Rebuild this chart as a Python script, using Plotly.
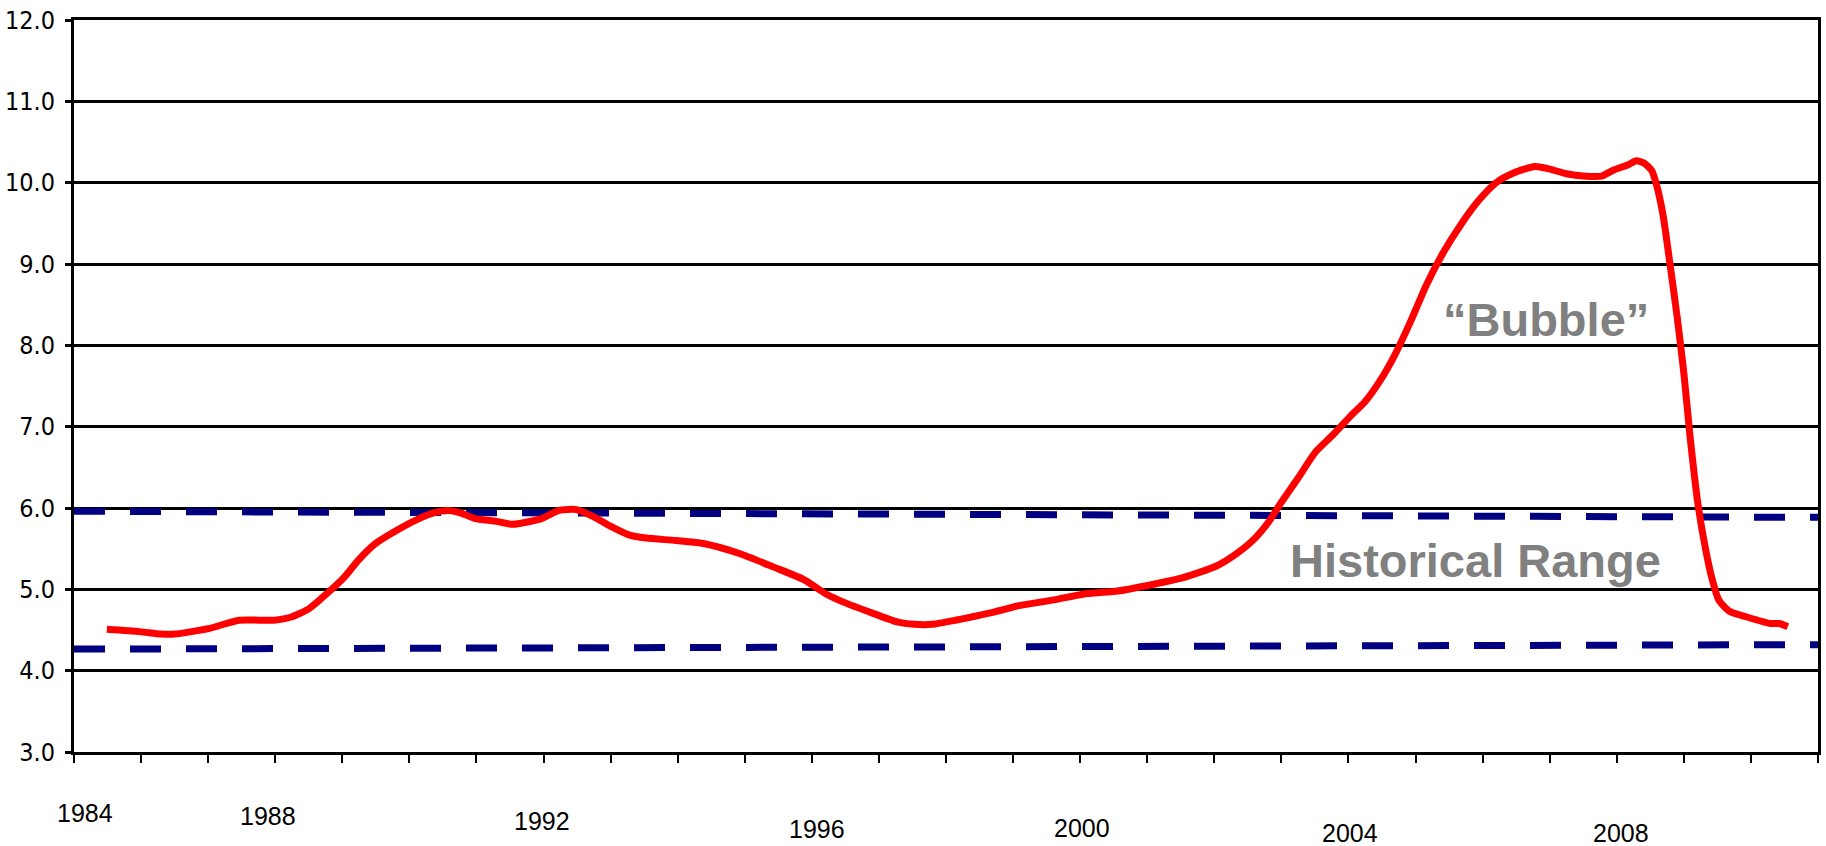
import plotly.graph_objects as go

# ---- data ----
years = [1985.49, 1985.98, 1986.3, 1986.5, 1987.02, 1987.46, 1987.98, 1988.24, 1988.5, 1988.76,
         1989.02, 1989.24, 1989.49, 1989.8, 1990.12, 1990.36, 1990.58, 1990.76, 1990.98, 1991.27,
         1991.54, 1991.97, 1992.23, 1992.49, 1992.75, 1993.01, 1993.27, 1993.53, 1993.97, 1994.4,
         1994.92, 1995.44, 1995.88, 1996.22, 1996.48, 1996.83, 1997.27, 1997.53, 1997.79, 1998.14,
         1998.66, 1999.09, 1999.61, 2000.04, 2000.56, 2001.08, 2001.52, 2002.04, 2002.3, 2002.56,
         2002.82, 2002.99, 2003.25, 2003.51, 2003.77, 2004.03, 2004.24, 2004.46, 2004.69, 2004.93,
         2005.16, 2005.42, 2005.68, 2005.94, 2006.2, 2006.46, 2006.78, 2006.99, 2007.25, 2007.54,
         2007.77, 2007.94, 2008.17, 2008.29, 2008.41, 2008.52, 2008.6, 2008.69, 2008.79, 2008.9,
         2009.0, 2009.09, 2009.21, 2009.32, 2009.42, 2009.52, 2009.68, 2009.94, 2010.29, 2010.42,
         2010.55]
ratio = [4.51, 4.48, 4.45, 4.45, 4.52, 4.62, 4.62, 4.66, 4.76, 4.94,
         5.14, 5.36, 5.56, 5.72, 5.86, 5.94, 5.97, 5.94, 5.87, 5.84,
         5.80, 5.87, 5.97, 5.98, 5.89, 5.77, 5.67, 5.63, 5.60, 5.56,
         5.44, 5.27, 5.12, 4.94, 4.84, 4.73, 4.60, 4.57, 4.57, 4.62,
         4.71, 4.80, 4.87, 4.94, 4.98, 5.06, 5.14, 5.29, 5.42, 5.59,
         5.84, 6.06, 6.37, 6.69, 6.90, 7.13, 7.30, 7.55, 7.88, 8.30,
         8.74, 9.15, 9.49, 9.78, 10.00, 10.12, 10.20, 10.17, 10.11, 10.08,
         10.08, 10.15, 10.22, 10.27, 10.24, 10.15, 9.95, 9.60, 9.02, 8.35,
         7.66, 6.90, 6.05, 5.51, 5.13, 4.87, 4.73, 4.66, 4.58, 4.58,
         4.54]

range_years = [1985, 2011]
upper_bound = [5.96, 5.885]
lower_bound = [4.265, 4.32]

tick_years = list(range(1985, 2012))
label_text = ["1984", "1988", "1992", "1996", "2000", "2004", "2008"]
# label placement (x in axis units, vertical offset in px)
label_x = [1985.16, 1987.89, 1991.97, 1996.07, 2000.02, 2004.03, 2008.06]
label_dy = [-61, -64, -69, -77, -76, -81, -81]

fig = go.Figure()

fig.add_trace(go.Scatter(x=range_years, y=upper_bound, mode="lines",
                         line=dict(color="#000080", width=7, dash="31px,25px"),
                         hoverinfo="skip", showlegend=False))
fig.add_trace(go.Scatter(x=range_years, y=lower_bound, mode="lines",
                         line=dict(color="#000080", width=7, dash="31px,25px"),
                         hoverinfo="skip", showlegend=False))
fig.add_trace(go.Scatter(x=years, y=ratio, mode="lines",
                         line=dict(color="#FF0000", width=7, shape="spline", smoothing=0.6),
                         showlegend=False))

for t, xv, dy in zip(label_text, label_x, label_dy):
    fig.add_annotation(x=xv, y=0, xref="x", yref="paper", text=t, showarrow=False,
                       xanchor="center", yanchor="middle", yshift=dy,
                       font=dict(family="Liberation Sans, Arial", size=25, color="#000000"))

fig.add_annotation(x=2006.94, y=8.32, xref="x", yref="y", text="\u201cBubble\u201d",
                   showarrow=False, xanchor="center", yanchor="middle",
                   font=dict(family="Liberation Sans, Arial", size=47, color="#808080", weight="bold"))
fig.add_annotation(x=2005.89, y=5.36, xref="x", yref="y", text="Historical Range",
                   showarrow=False, xanchor="center", yanchor="middle",
                   font=dict(family="Liberation Sans, Arial", size=47, color="#808080", weight="bold"))

fig.update_layout(
    width=1826, height=846,
    margin=dict(l=74, r=8, t=20, b=94, autoexpand=False),
    paper_bgcolor="white", plot_bgcolor="white",
    xaxis=dict(range=range_years, tickvals=tick_years, showticklabels=False,
               ticks="outside", ticklen=8, tickwidth=2, tickcolor="black",
               showgrid=False, zeroline=False, showline=True, linecolor="black",
               linewidth=3, mirror=True),
    yaxis=dict(range=[3, 12], dtick=1, tickformat=".1f",
               ticks="outside", ticklen=6, tickwidth=2.5, tickcolor="black",
               showgrid=True, gridcolor="black", gridwidth=2.5, zeroline=False,
               showline=True, linecolor="black", linewidth=3, mirror=True,
               ticklabelstandoff=5,
               tickfont=dict(family="DejaVu Sans Condensed, DejaVu Sans", size=25,
                             color="#000000")),
)

# remove the default 8px page margin so the figure fills the window exactly
fig.write_html("out.html", config={"displayModeBar": False},
               post_script="document.body.style.margin='0';")
